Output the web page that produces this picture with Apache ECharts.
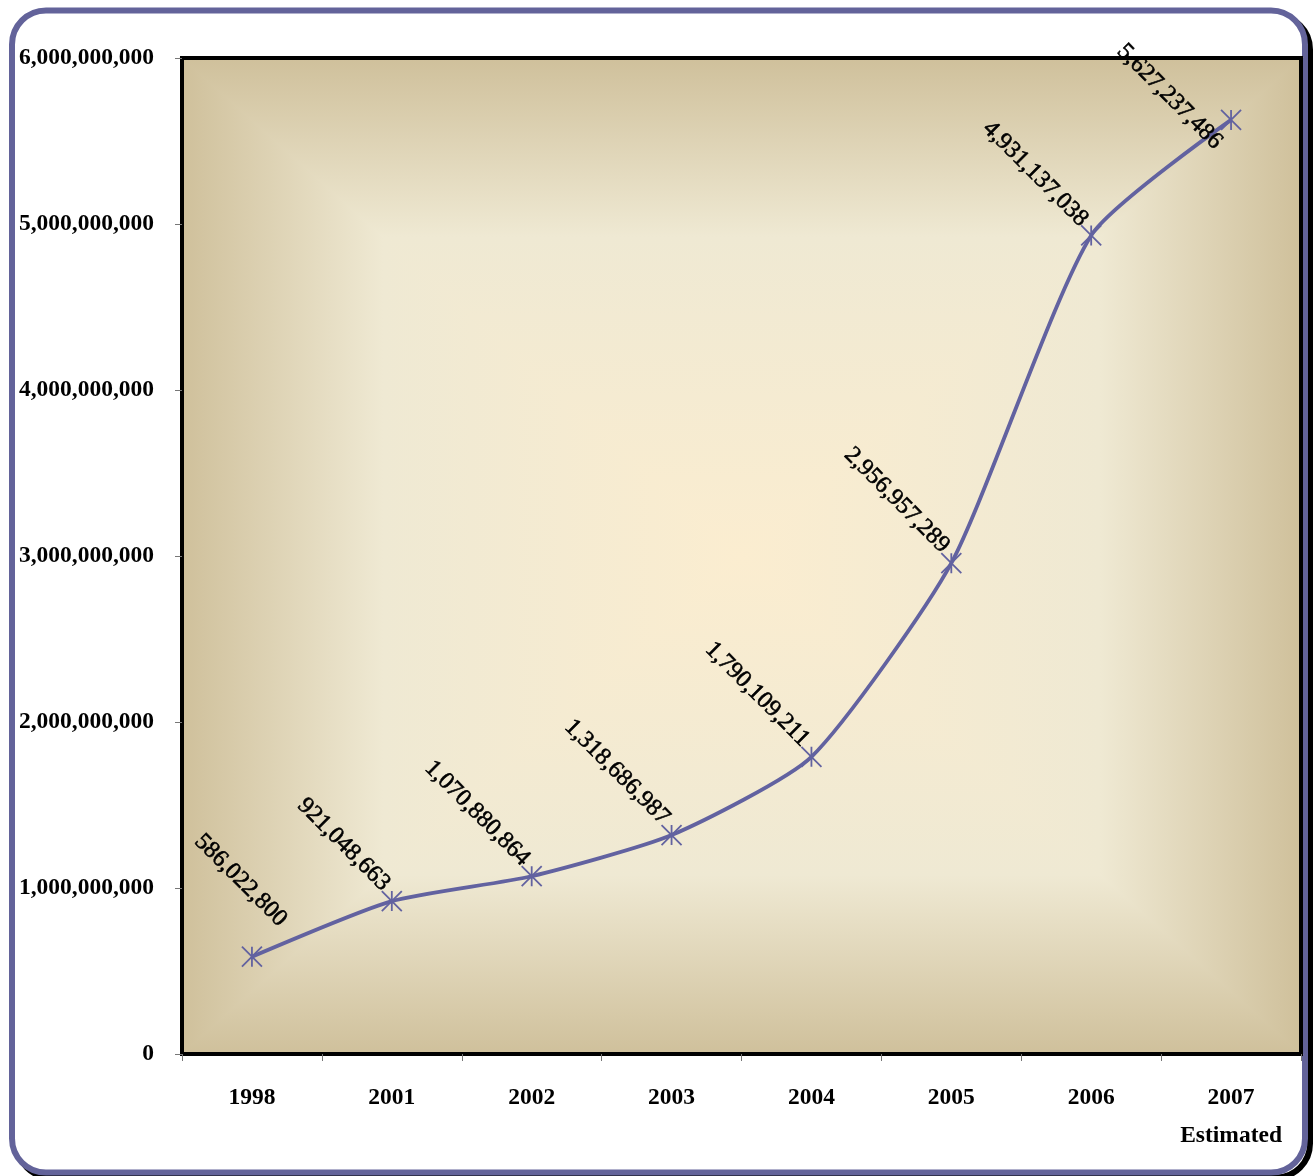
<!DOCTYPE html>
<html>
<head>
<meta charset="utf-8">
<title>Totals by year</title>
<script src="https://cdn.jsdelivr.net/npm/echarts@6/dist/echarts.min.js"></script>
<style>
  html, body { margin: 0; padding: 0; background: #ffffff; }
  #chart { width: 1315px; height: 1176px; }
</style>
</head>
<body>
<div id="chart"></div>
<script>
// ---- data ----
const years = ['1998', '2001', '2002', '2003', '2004', '2005', '2006', '2007'];
const yearNotes = ['', '', '', '', '', '', '', 'Estimated'];
const totals = [586022800, 921048663, 1070880864, 1318686987, 1790109211, 2956957289, 4931137038, 5627237486];
const yMin = 0;
const yMax = 6000000000;
const yStep = 1000000000;

// ---- layout ----
const PLOT = { left: 182, top: 58, right: 1301, bottom: 1054 };
const FONT = "'Liberation Serif', 'Times New Roman', serif";
const LINE_COLOR = '#6262a0';
// shift of each value label in its own (rotated) frame: [along text, across text]
const labelOffsets = [[-2, -46], [-14, -6], [-14, -6], [-14, -6], [-14, -6], [-14, -6], [-14, -4], [9, 27]];

const fmt = v => Number(v).toLocaleString('en-US');

// Rectangular "from centre" parchment fill: four wedges, each with a linear ramp
const cx = (PLOT.left + PLOT.right) / 2;
const cy = (PLOT.top + PLOT.bottom) / 2;
function ramp(x, y, x2, y2) {
  return {
    type: 'linear', x: x, y: y, x2: x2, y2: y2,
    colorStops: [
      { offset: 0, color: '#cfc09b' },
      { offset: 0.36, color: '#efe9d3' },
      { offset: 1, color: '#fbedd0' }
    ]
  };
}
function wedge(points, g) {
  return {
    type: 'polygon', z: -19, silent: true,
    shape: { points: points },
    style: { fill: g, stroke: g, lineWidth: 2 }
  };
}
const L = PLOT.left, T = PLOT.top, R = PLOT.right, B = PLOT.bottom;
const backdrop = [
  { type: 'rect', z: -30, silent: true,
    shape: { x: 17, y: 15.5, width: 1293, height: 1162, r: 34 },
    style: { fill: 'none', stroke: '#000', lineWidth: 6 } },
  { type: 'rect', z: -25, silent: true,
    shape: { x: 12, y: 10.5, width: 1293, height: 1162, r: 34 },
    style: { fill: '#ffffff', stroke: '#63639a', lineWidth: 6 } },
  wedge([[L, T], [L, B], [cx, cy]], ramp(0, 0, 1, 0)),
  wedge([[R, T], [R, B], [cx, cy]], ramp(1, 0, 0, 0)),
  wedge([[L, T], [R, T], [cx, cy]], ramp(0, 0, 0, 1)),
  wedge([[L, B], [R, B], [cx, cy]], ramp(0, 1, 0, 0))
];

const chart = echarts.init(document.getElementById('chart'), null, { renderer: 'canvas' });
chart.setOption({
  animation: false,
  backgroundColor: 'transparent',
  graphic: { elements: backdrop },
  grid: {
    left: PLOT.left, top: PLOT.top,
    width: PLOT.right - PLOT.left, height: PLOT.bottom - PLOT.top,
    show: true, backgroundColor: 'transparent', borderColor: '#000', borderWidth: 4
  },
  xAxis: {
    type: 'category',
    data: years,
    boundaryGap: true,
    axisLine: { show: true, lineStyle: { color: '#000', width: 4 } },
    axisTick: { show: true, interval: 0, length: 7, lineStyle: { color: '#777', width: 1 } },
    axisLabel: {
      interval: 0, margin: 25,
      fontFamily: FONT, fontSize: 23.5, fontWeight: 'bold', color: '#000', lineHeight: 38,
      formatter: (v, i) => yearNotes[i] ? v + '\n' + yearNotes[i] : v
    },
    splitLine: { show: false }
  },
  yAxis: {
    type: 'value',
    min: yMin, max: yMax, interval: yStep,
    axisLine: { show: true, lineStyle: { color: '#000', width: 4 } },
    axisTick: { show: true, length: 7, lineStyle: { color: '#777', width: 1 } },
    axisLabel: {
      margin: 28, fontFamily: FONT, fontSize: 23.5, fontWeight: 'bold', color: '#000',
      formatter: v => fmt(v)
    },
    splitLine: { show: false }
  },
  series: [{
    type: 'line',
    smooth: 0.2,
    data: totals.map((v, i) => ({
      value: v,
      label: { offset: labelOffsets[i] }
    })),
    lineStyle: { color: LINE_COLOR, width: 3.8 },
    symbol: 'path://M10,0L10,20M0,0L20,20M0,20L20,0',
    symbolSize: 20,
    symbolKeepAspect: true,
    itemStyle: { color: LINE_COLOR, borderColor: LINE_COLOR, borderWidth: 1.8 },
    label: {
      show: true,
      position: 'inside',
      align: 'right',
      verticalAlign: 'middle',
      rotate: -45,
      fontFamily: FONT,
      fontSize: 24,
      color: '#000',
      textBorderColor: '#000',
      textBorderWidth: 0.6,
      formatter: p => fmt(p.value)
    },
    z: 3
  }]
});
</script>
</body>
</html>
